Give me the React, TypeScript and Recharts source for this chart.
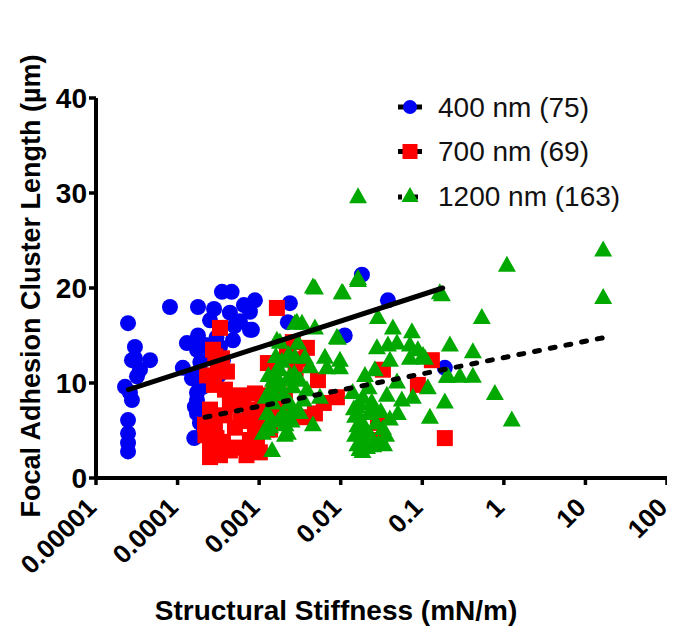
import React from "react";
import { ScatterChart, Scatter, XAxis, YAxis, Label } from "recharts";

// ---------- data ----------
const xTicks = [0.00001, 0.0001, 0.001, 0.01, 0.1, 1, 10, 100];
const xTickLabels = ["0.00001", "0.0001", "0.001", "0.01", "0.1", "1", "10", "100"];
const yTicks = [0, 10, 20, 30, 40];

const seriesNames = ["400 nm (75)", "700 nm (69)", "1200 nm (163)"];

// 400 nm (blue circles)
const blueX = [
  2.47e-5, 3.0e-5, 2.76e-5, 4.6e-5, 3.18e-5, 2.27e-5, 2.76e-5, 2.47e-5, 2.47e-5, 2.47e-5,
  2.47e-5, 3.46e-5, 2.61e-5, 3.0e-5, 8.07e-5, 1.78e-4, 3.5e-4, 4.6e-4, 8.88e-4, 4.38e-4,
  7.71e-4, 2.5e-4, 7.71e-4, 1.78e-4, 1.3e-4, 1.73e-4, 3.31e-4, 3.6e-4, 1.16e-4, 2.05e-4,
  1.73e-4, 1.73e-4, 1.88e-4, 2.05e-4, 1.63e-4, 1.73e-4, 2.38e-3, 2.25e-3, 8.16e-4, 4.77e-4,
  1.12e-2, 1.82e-2, 3.79e-2, 0.189, 3.0e-4, 2.2e-4, 1.5e-4, 2.0e-4, 3.2e-4, 1.9e-4,
  2.6e-4, 5.8e-4, 6.5e-4, 1.6e-4, 5.0e-4, 2.8e-4,
];
const blueY = [
  16.3, 13.8, 12.4, 12.4, 10.7, 9.6, 8.2, 6.1, 4.7, 3.7,
  2.8, 11.4, 9.0, 12.6, 18.0, 18.0, 19.6, 19.6, 18.7, 17.4,
  17.5, 16.6, 15.6, 15.0, 14.2, 13.5, 13.8, 12.4, 11.6, 9.6,
  8.2, 6.8, 5.8, 4.7, 7.5, 9.0, 18.4, 16.4, 15.6, 14.5,
  15.0, 21.4, 18.7, 11.6, 14.8, 14.0, 10.5, 11.0, 10.8, 12.2,
  13.0, 16.5, 18.2, 4.2, 16.0, 17.8,
];

// 700 nm (red squares)
const redX = [
  3.31e-4, 1.65e-3, 2.72e-4, 3.5e-4, 3.13e-4, 4.03e-4, 2.79e-4, 3.81e-4, 5.82e-4, 8.88e-4,
  1.18e-3, 1.56e-3, 2.07e-3, 2.5e-4, 4.38e-4, 7.71e-4, 1.36e-3, 2.38e-3, 2.17e-4, 2.87e-4,
  5.05e-4, 8.88e-4, 1.36e-3, 2.5e-4, 3.31e-4, 4.38e-4, 7.71e-4, 1.02e-3, 2.5e-4, 1.28e-3,
  2.19e-3, 3.85e-3, 2.59e-3, 5.26e-3, 8.98e-3, 4.83e-3, 3.64e-3, 6.33e-4, 8.39e-4, 1.25e-3,
  9.4e-4, 3.29e-2, 8.83e-2, 0.131, 2.86e-2, 3.02e-2, 0.189, 6.0e-4, 3.0e-4, 5.5e-4,
  7.0e-4, 3.8e-4, 4.5e-4, 2.3e-4, 3.6e-4, 2.2e-4, 2.6e-4, 1.1e-3, 1.7e-3, 2.8e-3,
  3.3e-3, 2.9e-4, 6.2e-3,
];
const redY = [
  15.8, 17.9, 13.5, 12.6, 11.4, 11.2, 9.8, 9.3, 8.7, 8.9,
  8.7, 8.4, 8.7, 7.2, 7.7, 7.2, 6.6, 6.8, 5.6, 5.1,
  5.3, 5.6, 5.1, 3.5, 2.4, 2.9, 4.0, 2.7, 2.2, 12.1,
  13.3, 13.7, 14.3, 10.3, 8.5, 6.8, 6.4, 8.2, 6.1, 5.1,
  3.7, 11.4, 9.8, 12.4, 5.8, 4.0, 4.2, 6.0, 4.2, 3.2,
  2.4, 6.6, 8.6, 10.8, 3.8, 4.5, 6.4, 7.5, 7.5, 11.5,
  12.5, 12.8, 7.9,
];

// 1200 nm (green triangles)
const greenX = [
  4.83e-3, 1.06e-2, 2.75e-3, 3.35e-3, 4.83e-3, 8.98e-3, 1.8e-3, 2.99e-3, 2.75e-3, 3.64e-3,
  6.4e-3, 9.78e-3, 1.8e-3, 4.19e-3, 6.77e-3, 9.78e-3, 1.48e-3, 2.19e-3, 3.16e-3, 1.36e-3,
  2.59e-3, 3.85e-3, 5.56e-3, 1.48e-3, 2.38e-3, 1.25e-3, 1.96e-3, 3.16e-3, 1.36e-3, 2.25e-3,
  4.56e-3, 1.44e-3, 1.11e-3, 1.65e-3, 2.9e-3, 1.56e-3, 1.25e-3, 2.07e-3, 1.2e-3, 1.5e-3,
  1.7e-3, 2.0e-3, 2.5e-3, 2.7e-3, 1.9e-3, 2.3e-3, 1.6e-3, 2.1e-3, 1.4e-3, 1.8e-3,
  2.4e-3, 3.5e-3, 1.3e-3, 2.6e-3,
  1.63e-2, 1.03e-2, 0.164, 2.86e-2, 4.36e-2, 7.46e-2, 9.24e-3, 2.78e-2, 3.79e-2, 4.89e-2,
  7.05e-2, 8.83e-2, 0.218, 4.01e-2, 7.05e-2, 0.108, 2.62e-2, 1.98e-2, 4.89e-2, 0.2,
  0.117, 1.87e-2, 3.68e-2, 5.62e-2, 7.67e-2, 0.189, 1.58e-2, 2.48e-2, 5.02e-2, 0.124,
  1.5e-2, 1.6e-2, 1.5e-2, 1.6e-2, 1.7e-2, 1.8e-2, 1.9e-2, 2.0e-2, 2.1e-2, 2.2e-2,
  2.3e-2, 2.5e-2, 2.7e-2, 2.9e-2, 3.1e-2, 3.3e-2, 1.45e-2, 1.7e-2, 2.4e-2, 1.65e-2,
  1.85e-2, 3.4e-2, 3.6e-2, 4.0e-2, 1.4e-2, 2.2e-2,
  16.5, 1.09, 16.5, 0.174, 0.537, 0.417, 0.102, 0.206, 0.289, 0.417,
  0.776, 1.25, 1.63e-2, 4.56e-3, 1.63e-2,
];
const greenY = [
  20.0, 19.5, 16.3, 16.3, 15.8, 14.8, 14.3, 14.2, 12.7, 12.7,
  12.7, 12.4, 11.4, 11.7, 11.6, 11.6, 10.3, 10.3, 10.3, 9.3,
  9.6, 9.3, 8.5, 7.9, 7.9, 6.8, 6.8, 6.9, 5.4, 4.7,
  5.6, 2.9, 4.7, 14.5, 16.4, 11.0, 5.1, 4.5, 8.5, 9.0,
  6.0, 8.8, 6.0, 11.0, 12.3, 13.0, 12.8, 5.6, 6.2, 9.7,
  10.8, 8.2, 10.8, 7.2,
  21.0, 19.5, 19.5, 16.9, 15.8, 15.4, 14.7, 13.7, 14.0, 14.2,
  14.0, 13.5, 14.0, 12.4, 12.6, 12.6, 11.4, 10.8, 10.1, 10.7,
  9.5, 8.5, 8.7, 8.2, 8.5, 8.0, 7.5, 7.2, 6.8, 6.4,
  6.5, 5.5, 4.5, 3.5, 3.0, 6.0, 4.0, 5.0, 3.2, 6.8,
  4.5, 3.4, 5.8, 3.6, 7.0, 5.2, 7.3, 7.8, 8.0, 4.9,
  2.8, 3.5, 4.5, 6.2, 9.0, 9.5,
  24.0, 22.4, 19.0, 19.3, 16.9, 13.3, 12.9, 10.7, 10.7, 10.7,
  8.9, 6.1, 29.6, 20.1, 20.8,
];

// regression lines (end points)
const fit400X = [2.5e-5, 0.178];
const fit400Y = [9.3, 20.0];
const fit1200X = [2.17e-4, 17.3];
const fit1200Y = [6.4, 14.8];

// ---------- styling ----------
const BLUE = "#0000F2";
const RED = "#FF0000";
const GREEN = "#00A800";
const FONT = "'Liberation Sans', Arial, Helvetica, sans-serif";

const zip = (xs: number[], ys: number[]) => xs.map((x, i) => ({ x, y: ys[i] }));
const blueData = zip(blueX, blueY);
const redData = zip(redX, redY);
const greenData = zip(greenX, greenY);
const fit400 = zip(fit400X, fit400Y);
const fit1200 = zip(fit1200X, fit1200Y);

const CircleShape = (p: any) => <circle cx={p.cx} cy={p.cy} r={8} fill={BLUE} />;
const SquareShape = (p: any) => <rect x={p.cx - 8} y={p.cy - 8} width={16} height={16} fill={RED} />;
const TriShape = (p: any) => (
  <polygon
    points={`${p.cx},${p.cy - 9.5} ${p.cx - 9},${p.cy + 6.5} ${p.cx + 9},${p.cy + 6.5}`}
    fill={GREEN}
  />
);
const NoShape = () => <g />;

const XTick = (props: any) => {
  const { x, y, payload } = props;
  const idx = xTicks.indexOf(payload.value);
  const label = idx >= 0 ? xTickLabels[idx] : String(payload.value);
  return (
    <g transform={`translate(${x - 11},${y + 9})`}>
      <text
        x={0}
        y={0}
        dy="0.71em"
        textAnchor="end"
        transform="rotate(-45)"
        fontFamily={FONT}
        fontWeight="bold"
        fontSize={26}
        fill="#000"
      >
        {label}
      </text>
    </g>
  );
};

const legendMarkers = [
  (cx: number, cy: number) => (
    <g>
      <line x1={cx - 12} y1={cy} x2={cx + 12} y2={cy} stroke="#000" strokeWidth={5} />
      <circle cx={cx} cy={cy} r={7} fill={BLUE} />
    </g>
  ),
  (cx: number, cy: number) => (
    <g>
      <line x1={cx - 12} y1={cy} x2={cx + 12} y2={cy} stroke="#000" strokeWidth={5} />
      <rect x={cx - 7.5} y={cy - 7.5} width={15} height={15} fill={RED} />
    </g>
  ),
  (cx: number, cy: number) => (
    <g>
      <line x1={cx - 12} y1={cy + 1} x2={cx + 12} y2={cy + 1} stroke="#000" strokeWidth={5} strokeDasharray="4 4" />
      <polygon points={`${cx},${cy - 9} ${cx - 8.5},${cy + 6} ${cx + 8.5},${cy + 6}`} fill={GREEN} />
    </g>
  ),
];

const W = 667;
const H = 620;

export default function App() {
  return (
    <div style={{ position: "relative", width: W, height: H }}>
      <ScatterChart
        width={W}
        height={H}
        margin={{ top: 90, right: 8, bottom: 90, left: 28 }}
        style={{ background: "#fff", overflow: "visible" }}
      >
        <XAxis
          type="number"
          dataKey="x"
          scale="log"
          domain={[0.00001, 100]}
          ticks={xTicks}
          allowDataOverflow
          height={60}
          interval={0}
          tick={<XTick />}
          tickSize={7}
          axisLine={{ stroke: "#000", strokeWidth: 4 }}
          tickLine={{ stroke: "#000", strokeWidth: 3.5 }}
        >
          <Label
            value="Structural Stiffness (mN/m)"
            content={() => (
              <text
                x={328}
                y={602}
                textAnchor="middle"
                dominantBaseline="central"
                fontFamily={FONT}
                fontWeight="bold"
                fontSize={28}
                fill="#000"
              >
                Structural Stiffness (mN/m)
              </text>
            )}
          />
        </XAxis>
        <YAxis
          type="number"
          dataKey="y"
          domain={[0, 40]}
          ticks={yTicks}
          width={60}
          interval={0}
          tickSize={7}
          tickMargin={2}
          axisLine={{ stroke: "#000", strokeWidth: 4 }}
          tickLine={{ stroke: "#000", strokeWidth: 3.5 }}
          tick={{ fontFamily: FONT, fontWeight: "bold", fontSize: 28, fill: "#000" }}
        >
          <Label
            value="Focal Adhesion Cluster Length (µm)"
            content={() => (
              <text
                x={23}
                y={278}
                transform="rotate(-90, 23, 278)"
                textAnchor="middle"
                dominantBaseline="central"
                fontFamily={FONT}
                fontWeight="bold"
                fontSize={27}
                fill="#000"
              >
                Focal Adhesion Cluster Length (µm)
              </text>
            )}
          />
        </YAxis>
        <Scatter data={blueData} shape={CircleShape} isAnimationActive={false} />
        <Scatter data={redData} shape={SquareShape} isAnimationActive={false} />
        <Scatter data={greenData} shape={TriShape} isAnimationActive={false} />
        <Scatter
          data={fit400}
          shape={NoShape}
          line={{ stroke: "#000", strokeWidth: 5, strokeLinecap: "round" }}
          isAnimationActive={false}
        />
        <Scatter
          data={fit1200}
          shape={NoShape}
          line={{ stroke: "#000", strokeWidth: 5, strokeDasharray: "5 11", strokeLinecap: "round" }}
          isAnimationActive={false}
        />
      </ScatterChart>
      <svg
        width={280}
        height={180}
        style={{ position: "absolute", left: 380, top: 60, pointerEvents: "none" }}
      >
        {seriesNames.map((name, i) => {
          const cy = 39 + i * 44.5;
          return (
            <g key={name}>
              {legendMarkers[i](22, cy)}
              <text
                x={50}
                y={cy}
                dominantBaseline="central"
                fontFamily={FONT}
                fontSize={28}
                fill="#111"
              >
                {name}
              </text>
            </g>
          );
        })}
      </svg>
    </div>
  );
}
